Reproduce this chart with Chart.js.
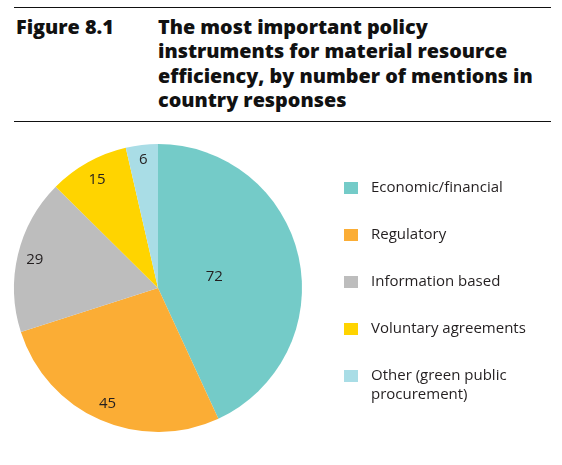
<!DOCTYPE html>
<html>
<head>
<meta charset="utf-8">
<script src="https://cdn.jsdelivr.net/npm/chart.js@4"></script>
<style>
  body { margin: 0; background: #fff; font-family: "Open Sans", sans-serif; color: #231f20; }
  #page { position: relative; width: 562px; height: 465px; overflow: hidden; }
  .rule { position: absolute; left: 14px; width: 537px; height: 0; border-top: 1.5px solid #111; }
  #fig { position: absolute; left: 16px; top: 15px; font-weight: 800; font-size: 19.8px; line-height: 24.4px; color: #111; }
  #title { position: absolute; left: 158px; top: 15px; width: 404px; font-weight: 800; font-size: 19.8px; line-height: 24.4px; color: #111; white-space: nowrap; }
  #chart-box { position: absolute; left: 0; top: 0; width: 562px; height: 465px; }
  #legend { position: absolute; left: 344px; top: 0; }
  .item { position: absolute; left: 0; width: 210px; font-size: 15px; line-height: 18.5px; }
  .sw { position: absolute; left: 0; top: 4px; width: 14px; height: 12px; }
  .txt { position: absolute; left: 27px; top: -1px; white-space: nowrap; }
</style>
</head>
<body>
<div id="page">
  <div class="rule" style="top:7px"></div>
  <div id="fig">Figure 8.1</div>
  <div id="title">The most important policy<br>instruments for material resource<br>efficiency, by number of mentions in<br>country responses</div>
  <div class="rule" style="top:121px"></div>
  <div id="chart-box"><canvas id="pie" width="562" height="465"></canvas></div>
  <div id="legend"></div>
</div>
<script>
const categories = ['Economic/financial', 'Regulatory', 'Information based', 'Voluntary agreements', ['Other (green public', 'procurement)']];
const mentions = [72, 45, 29, 15, 6];
const colors = ['#74cbc8', '#fbad35', '#bdbdbd', '#ffd400', '#a9dde6'];

// where each number sits, as a share of the radius
const labelRadius = [0.4, 0.87, 0.88, 0.87, 0.9];

const legendTop = [178, 225, 272, 319, 366];
const legend = document.getElementById('legend');
categories.forEach((c, i) => {
  const lines = Array.isArray(c) ? c : [c];
  legend.innerHTML += `<div class="item" style="top:${legendTop[i]}px">
    <div class="sw" style="background:${colors[i]}"></div>
    <div class="txt">${lines.join('<br>')}</div></div>`;
});

const sliceLabels = {
  id: 'sliceLabels',
  afterDatasetsDraw(chart) {
    const ctx = chart.ctx;
    const meta = chart.getDatasetMeta(0);
    ctx.save();
    ctx.font = '15px "Open Sans"';
    ctx.fillStyle = '#231f20';
    ctx.textAlign = 'center';
    ctx.textBaseline = 'middle';
    meta.data.forEach((arc, i) => {
      const p = arc.getProps(['x', 'y', 'startAngle', 'endAngle', 'outerRadius'], true);
      const a = (p.startAngle + p.endAngle) / 2;
      const r = p.outerRadius * labelRadius[i];
      ctx.fillText(String(mentions[i]), p.x + Math.cos(a) * r, p.y + Math.sin(a) * r + 1);
    });
    ctx.restore();
  }
};

new Chart(document.getElementById('pie'), {
  type: 'pie',
  data: {
    labels: categories.map(c => Array.isArray(c) ? c.join(' ') : c),
    datasets: [{ data: mentions, backgroundColor: colors, borderWidth: 0 }]
  },
  options: {
    responsive: false,
    animation: false,
    layout: { padding: { left: 14, top: 144, right: 260, bottom: 33 } },
    plugins: { legend: { display: false }, tooltip: { enabled: false } }
  },
  plugins: [sliceLabels]
});
</script>
</body>
</html>
